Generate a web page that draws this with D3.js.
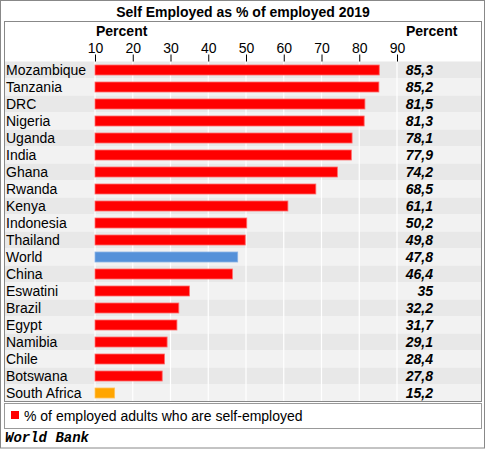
<!DOCTYPE html>
<html><head><meta charset="utf-8">
<script src="https://cdn.jsdelivr.net/npm/d3@7"></script>
<style>body{margin:0;background:#fff}svg{display:block}</style>
</head><body>
<script>
const title = "Self Employed as % of employed 2019";
const categories = ["Mozambique","Tanzania","DRC","Nigeria","Uganda","India","Ghana","Rwanda","Kenya","Indonesia","Thailand","World","China","Eswatini","Brazil","Egypt","Namibia","Chile","Botswana","South Africa"];
const values = [85.3,85.2,81.5,81.3,78.1,77.9,74.2,68.5,61.1,50.2,49.8,47.8,46.4,35,32.2,31.7,29.1,28.4,27.8,15.2];
const tickValues = [10,20,30,40,50,60,70,80,90];
const seriesName = "% of employed adults who are self-employed";
const source = "World Bank";
const axisTitle = "Percent";

const W = 486, H = 449;
const font = "Liberation Sans, Arial, sans-serif";
const fs = 14;
const svg = d3.select("body").append("svg").attr("width", W).attr("height", H);

// outer frame
svg.append("rect").attr("x",0.5).attr("y",0.5).attr("width",W-2).attr("height",H-1.5)
  .attr("fill","#fff").attr("stroke","#888");
svg.append("text").attr("x",243).attr("y",16.5).attr("text-anchor","middle")
  .attr("font-family",font).attr("font-weight","bold").attr("font-size",fs).text(title);

const panelL = 4.5, panelR = 481.5, panelT = 21.5, panelB = 401.5;
const rowTop = 61.5;
const x = d3.scaleLinear().domain([10,90]).range([95,397]);
const y = d3.scaleBand().domain(categories).range([rowTop, panelB]);

svg.append("rect").attr("x",panelL).attr("y",panelT).attr("width",panelR-panelL).attr("height",panelB-panelT)
  .attr("fill","#fff");

// row bands
svg.selectAll(".band").data(categories).enter().append("rect")
  .attr("x",panelL).attr("width",panelR-panelL)
  .attr("y",d=>y(d)).attr("height",y.bandwidth())
  .attr("fill",(d,i)=> i%2===0 ? "#e8e8e8" : "#f2f2f2");

// gridlines
svg.selectAll(".grid").data(tickValues).enter().append("line")
  .attr("x1",d=>x(d)).attr("x2",d=>x(d)).attr("y1",rowTop).attr("y2",panelB)
  .attr("stroke","#fff").attr("stroke-width",1.2);

// axis
const axis = d3.axisTop(x).tickValues(tickValues).tickSize(7).tickPadding(2).tickFormat(d3.format("d"));
const ag = svg.append("g").attr("transform",`translate(0,${rowTop})`).call(axis);
ag.select(".domain").remove();
ag.selectAll("text").attr("font-family",font).attr("font-size",fs).attr("fill","#000");
ag.selectAll("line").attr("stroke","#000");

svg.append("text").attr("x",96).attr("y",35.5).attr("font-family",font).attr("font-weight","bold")
  .attr("font-size",fs).text(axisTitle);
svg.append("text").attr("x",406).attr("y",35.5).attr("font-family",font).attr("font-weight","bold")
  .attr("font-size",fs).text(axisTitle);

// bars
const barColor = d => d==="World" ? "#5591d9" : d==="South Africa" ? "#ffa500" : "#ff0000";
const barStroke = d => d==="World" ? "#8ab3e6" : d==="South Africa" ? "#ffc15a" : "#ff6a6a";
const bh = 10;
svg.selectAll(".bar").data(categories).enter().append("rect")
  .attr("x",x(10)).attr("y",d=>y(d)+ (y.bandwidth()-bh)/2)
  .attr("width",(d,i)=>x(values[i])-x(10)).attr("height",bh)
  .attr("fill",barColor).attr("stroke",barStroke).attr("stroke-width",0.8);

// category labels
svg.selectAll(".cat").data(categories).enter().append("text")
  .attr("x",6).attr("y",d=>y(d)+y.bandwidth()/2+5)
  .attr("font-family",font).attr("font-size",fs).text(d=>d);

// values
svg.selectAll(".val").data(values).enter().append("text")
  .attr("x",433).attr("y",(d,i)=>y(categories[i])+y.bandwidth()/2+5)
  .attr("text-anchor","end").attr("font-family",font).attr("font-size",fs)
  .attr("font-weight","bold").attr("font-style","italic")
  .text(d=>String(d).replace(".",","));

// panel border
svg.append("rect").attr("x",panelL).attr("y",panelT).attr("width",panelR-panelL).attr("height",panelB-panelT)
  .attr("fill","none").attr("stroke","#888");

// legend
svg.append("rect").attr("x",4.5).attr("y",403.5).attr("width",477).attr("height",25)
  .attr("fill","#fff").attr("stroke","#999");
svg.append("rect").attr("x",11).attr("y",411).attr("width",8).attr("height",8).attr("fill","#ff0000");
svg.append("text").attr("x",24).attr("y",421).attr("font-family",font).attr("font-size",fs).text(seriesName);

// source
svg.append("text").attr("x",5).attr("y",442).attr("font-family","Liberation Mono, Courier New, monospace")
  .attr("font-size",14).attr("font-weight","bold").attr("font-style","italic").text(source);
</script>
</body></html>
